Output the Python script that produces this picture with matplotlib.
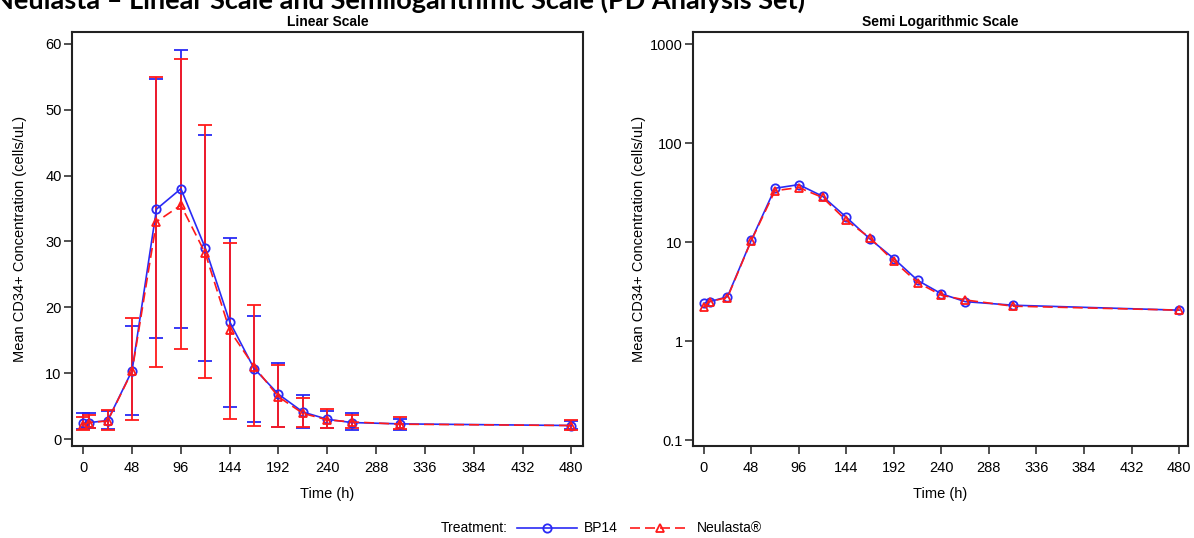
import numpy as np
import matplotlib
matplotlib.use("Agg")
import matplotlib.pyplot as plt
from matplotlib.lines import Line2D

plt.rcParams['font.family'] = ['Liberation Sans', 'DejaVu Sans']

# sampling times (h)
time_h = [0, 6, 24, 48, 72, 96, 120, 144, 168, 192, 216, 240, 264, 312, 480]

# BP14 means and error bar ends
bp14_mean = [2.4, 2.5, 2.8, 10.4, 34.9, 38.0, 29.0, 17.8, 10.7, 6.8, 4.1, 3.0, 2.5, 2.3, 2.05]
bp14_hi = [3.9, 3.9, 4.2, 17.2, 54.6, 59.0, 46.2, 30.5, 18.7, 11.6, 6.7, 4.3, 3.9, 3.1, 2.7]
bp14_lo = [1.5, 1.6, 1.5, 3.7, 15.4, 16.9, 11.8, 4.9, 2.6, 1.9, 1.6, 1.7, 1.4, 1.4, 1.5]

# Neulasta means and error bar ends
neu_mean = [2.2, 2.5, 2.75, 10.3, 33.0, 35.5, 28.2, 16.5, 11.0, 6.4, 3.9, 2.9, 2.6, 2.25, 2.05]
neu_hi = [3.4, 3.6, 4.4, 18.3, 55.0, 57.7, 47.7, 29.8, 20.3, 11.2, 6.3, 4.5, 3.7, 3.4, 2.9]
neu_lo = [1.4, 1.6, 1.4, 2.9, 11.0, 13.6, 9.3, 3.1, 2.0, 1.9, 1.8, 1.6, 1.6, 1.5, 1.4]

xticks = list(range(0, 481, 48))
log_ticks = [0.1, 1, 10, 100, 1000]
log_labels = ['0.1', '1', '10', '100', '1000']

BLUE = '#2a2af5'
RED = '#ff1a1a'

W, H = 1194, 538
fig = plt.figure(figsize=(W / 100, H / 100), dpi=100)

def px_axes(x0, y0, x1, y1):
    return fig.add_axes([x0 / W, 1 - y1 / H, (x1 - x0) / W, (y1 - y0) / H])

ax1 = px_axes(72, 32, 583, 446)
ax2 = px_axes(693, 32, 1188, 446)

t = np.array(time_h)

def errs(mean, lo, hi):
    m = np.array(mean)
    return [m - np.array(lo), np.array(hi) - m]

line_kw = dict(lw=1.2, ms=6, mfc='none', mew=1.3)
bp_kw = dict(color=BLUE, marker='o', **line_kw)
neu_kw = dict(color=RED, marker='^', ls=(0, (6, 3)), **line_kw)

# linear panel
ax1.errorbar(t, bp14_mean, yerr=errs(bp14_mean, bp14_lo, bp14_hi),
             capsize=4.8, capthick=1.3, elinewidth=1.3, **bp_kw)
ax1.errorbar(t, neu_mean, yerr=errs(neu_mean, neu_lo, neu_hi),
             capsize=4.8, capthick=1.3, elinewidth=1.3, **neu_kw)
ax1.set_xlim(-11.1, 491.5)
ax1.set_ylim(-1.06, 61.8)
ax1.set_yticks([0, 10, 20, 30, 40, 50, 60])
ax1.set_title('Linear Scale', fontsize=10, fontweight='bold', pad=4)
ax1.yaxis.set_label_coords(-0.089, 0.5)

# semi log panel
ax2.plot(t, bp14_mean, **bp_kw)
ax2.plot(t, neu_mean, **neu_kw)
ax2.set_yscale('log')
ax2.set_xlim(-10.8, 489)
ax2.set_ylim(0.087, 1323)
ax2.set_yticks(log_ticks)
ax2.set_yticklabels(log_labels)
ax2.minorticks_off()
ax2.set_title('Semi Logarithmic Scale', fontsize=10, fontweight='bold', pad=4)
ax2.yaxis.set_label_coords(-0.0955, 0.5)

for ax in (ax1, ax2):
    ax.set_xticks(xticks)
    ax.tick_params(axis='both', labelsize=10.5, length=5.5, width=1.2, color='#333333')
    ax.tick_params(axis='x', pad=5)
    ax.tick_params(axis='y', pad=2)
    ax.set_xlabel('Time (h)', fontsize=10.5)
    ax.xaxis.set_label_coords(0.5, -0.099)
    ax.set_ylabel('Mean CD34+ Concentration (cells/uL)', fontsize=10.5)
    for s in ax.spines.values():
        s.set_linewidth(1.5)
        s.set_color('#222222')

# heading, cut off at the top edge like the source
fig.text(-0.006, 1.0, 'Neulasta \u2013 Linear Scale and Semilogarithmic Scale (PD Analysis Set)',
         fontsize=19.5, fontweight='bold', family=['Lato', 'DejaVu Sans'], va='center', ha='left')

# legend
fig.text(441 / W, 1 - 528.5 / H, 'Treatment:', fontsize=10, va='center', ha='left')
handles = [Line2D([], [], **bp_kw), Line2D([], [], **neu_kw)]
fig.legend(handles, ['BP14', 'Neulasta\u00ae'], loc='center left', bbox_to_anchor=(517 / W, 1 - 528.5 / H),
           ncol=2, frameon=False, fontsize=10, handlelength=4.3, columnspacing=0.9, handletextpad=0.5,
           borderaxespad=0, borderpad=0)

fig.savefig('out.png', dpi=100)
